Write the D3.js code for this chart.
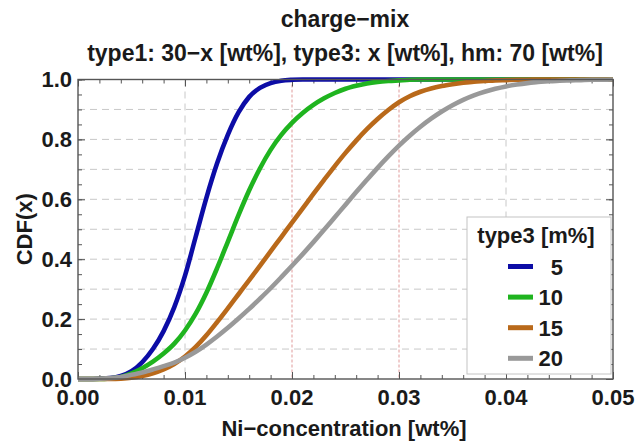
<!DOCTYPE html>
<html>
<head>
<meta charset="utf-8">
<script src="https://cdn.jsdelivr.net/npm/d3@7"></script>
<style>
  html, body { margin: 0; padding: 0; background: #fff; }
  svg { display: block; }
  text { font-family: "Liberation Sans", Arial, sans-serif; font-weight: bold; fill: #1a1a1a; }
</style>
</head>
<body>
<svg id="chart" width="635" height="441"></svg>
<script>
// ---------------- data ----------------
const titleText = "charge\u2212mix";
const subtitleText = "type1: 30\u2212x [wt%], type3: x [wt%], hm: 70 [wt%]";
const xTitle = "Ni\u2212concentration [wt%]";
const yTitle = "CDF(x)";
const legendTitle = "type3 [m%]";

const xGrid = [0.000,0.001,0.002,0.003,0.004,0.005,0.006,0.007,0.008,0.009,
               0.010,0.011,0.012,0.013,0.014,0.015,0.016,0.017,0.018,0.019,
               0.020,0.021,0.022,0.023,0.024,0.025,0.026,0.027,0.028,0.029,
               0.030,0.031,0.032,0.033,0.034,0.035,0.036,0.037,0.038,0.039,
               0.040,0.041,0.042,0.043,0.044,0.045,0.046,0.047,0.048,0.049,0.050];

const seriesNames = ["5", "10", "15", "20"];
const cdf5  = [0,0,0.001,0.003,0.01,0.026,0.056,0.1,0.16,0.24,
               0.345,0.475,0.605,0.72,0.815,0.89,0.942,0.972,0.988,0.996,
               0.999,1,1,1,1,1,1,1,1,1,
               1,1,1,1,1,1,1,1,1,1,
               1,1,1,1,1,1,1,1,1,1,1];
const cdf10 = [0,0,0,0.002,0.007,0.019,0.036,0.058,0.085,0.118,
               0.162,0.218,0.288,0.37,0.458,0.547,0.63,0.703,0.765,0.815,
               0.855,0.888,0.915,0.937,0.955,0.969,0.979,0.987,0.992,0.995,
               0.997,0.999,1,1,1,1,1,1,1,1,
               1,1,1,1,1,1,1,1,1,1,1];
const cdf15 = [0,0,0,0,0.001,0.004,0.01,0.019,0.032,0.05,
               0.075,0.107,0.146,0.19,0.236,0.283,0.33,0.378,0.426,0.474,
               0.522,0.57,0.618,0.665,0.711,0.755,0.796,0.834,0.868,0.898,
               0.924,0.944,0.959,0.97,0.978,0.984,0.989,0.993,0.995,0.997,
               0.998,0.999,0.999,1,1,1,1,1,1,1,1];
const cdf20 = [0,0,0.001,0.003,0.007,0.014,0.022,0.032,0.043,0.055,
               0.071,0.091,0.115,0.142,0.171,0.202,0.234,0.268,0.303,0.34,
               0.378,0.417,0.457,0.498,0.54,0.582,0.624,0.665,0.705,0.743,
               0.779,0.812,0.842,0.869,0.893,0.914,0.932,0.947,0.959,0.969,
               0.977,0.983,0.988,0.992,0.994,0.996,0.997,0.998,0.999,0.999,1];
const seriesValues = [cdf5, cdf10, cdf15, cdf20];
const seriesColors = ["#0c0ca6", "#1fb41f", "#b9691a", "#999999"];

const xTickValues = [0, 0.01, 0.02, 0.03, 0.04, 0.05];
const xTickLabels = ["0.00", "0.01", "0.02", "0.03", "0.04", "0.05"];
const yTickValues = [0, 0.2, 0.4, 0.6, 0.8, 1.0];
const yTickLabels = ["0.0", "0.2", "0.4", "0.6", "0.8", "1.0"];
const redLines = [0.02, 0.03];
const grayVLines = [0.01, 0.04];
const hLines = [0.1,0.2,0.3,0.4,0.5,0.6,0.7,0.8,0.9];

// ---------------- layout ----------------
const svg = d3.select("#chart");
const pL = 78, pR = 613, pT = 79.5, pB = 379;
const x = d3.scaleLinear().domain([0, 0.05]).range([pL, pR]);
const y = d3.scaleLinear().domain([0, 1]).range([pB, pT]);
const FS = 22;

// titles
svg.append("text").attr("x", 345).attr("y", 27).attr("text-anchor", "middle")
  .style("font-size", "23px").text(titleText);
svg.append("text").attr("x", 345).attr("y", 61).attr("text-anchor", "middle")
  .style("font-size", "23px").text(subtitleText);

// grid
const g = svg.append("g");
g.selectAll(".hl").data(hLines).join("line")
  .attr("x1", pL).attr("x2", pR).attr("y1", d => y(d)).attr("y2", d => y(d))
  .attr("stroke", "#c8c8c8").attr("stroke-width", 1).attr("stroke-dasharray", "7,5");
g.selectAll(".vl").data(grayVLines).join("line")
  .attr("x1", d => x(d)).attr("x2", d => x(d)).attr("y1", pT).attr("y2", pB)
  .attr("stroke", "#c8c8c8").attr("stroke-width", 1).attr("stroke-dasharray", "7,5");
g.selectAll(".rl").data(redLines).join("line")
  .attr("x1", d => x(d)).attr("x2", d => x(d)).attr("y1", pT).attr("y2", pB)
  .attr("stroke", "#e09a9a").attr("stroke-width", 1).attr("stroke-dasharray", "3,2");

// axes with inward ticks on all sides
function tickSet(axisGen, transform) {
  svg.append("g").attr("transform", transform).call(axisGen)
    .call(s => s.select(".domain").remove())
    .call(s => s.selectAll("line").attr("stroke", "#555").attr("stroke-width", 1));
}
const xMinor = d3.range(0, 51, 2).map(i => i / 1000);
const yMinor = d3.range(0, 21).map(i => i / 20);
tickSet(d3.axisBottom(x).tickValues(xMinor).tickSize(-4).tickFormat(""), `translate(0,${pB})`);
tickSet(d3.axisBottom(x).tickValues(xTickValues).tickSize(-7).tickFormat(""), `translate(0,${pB})`);
tickSet(d3.axisTop(x).tickValues(xMinor).tickSize(-4).tickFormat(""), `translate(0,${pT})`);
tickSet(d3.axisTop(x).tickValues(xTickValues).tickSize(-7).tickFormat(""), `translate(0,${pT})`);
tickSet(d3.axisLeft(y).tickValues(yMinor).tickSize(-4).tickFormat(""), `translate(${pL},0)`);
tickSet(d3.axisLeft(y).tickValues(yTickValues).tickSize(-7).tickFormat(""), `translate(${pL},0)`);
tickSet(d3.axisRight(y).tickValues(yMinor).tickSize(-4).tickFormat(""), `translate(${pR},0)`);
tickSet(d3.axisRight(y).tickValues(yTickValues).tickSize(-7).tickFormat(""), `translate(${pR},0)`);

// tick labels
svg.selectAll(".xl").data(xTickValues).join("text")
  .attr("x", d => x(d)).attr("y", 405).attr("text-anchor", "middle")
  .style("font-size", FS + "px").text((d, i) => xTickLabels[i]);
svg.selectAll(".yl").data(yTickValues).join("text")
  .attr("x", 72).attr("y", d => y(d) + 7.5).attr("text-anchor", "end")
  .style("font-size", FS + "px").text((d, i) => yTickLabels[i]);

// axis titles
svg.append("text").attr("x", 344).attr("y", 436).attr("text-anchor", "middle")
  .style("font-size", FS + "px").text(xTitle);
svg.append("text").attr("transform", `translate(32,${(pT + pB) / 2}) rotate(-90)`)
  .attr("text-anchor", "middle").style("font-size", FS + "px").text(yTitle);

// curves
const line = d3.line().x(d => x(d[0])).y(d => y(d[1])).curve(d3.curveMonotoneX);
seriesValues.forEach((vals, i) => {
  svg.append("path").datum(xGrid.map((xv, j) => [xv, vals[j]]))
    .attr("d", line).attr("fill", "none").attr("stroke", seriesColors[i])
    .attr("stroke-width", 4.6).attr("stroke-linejoin", "round").attr("stroke-linecap", "butt");
});

// frame
svg.append("rect").attr("x", pL).attr("y", pT).attr("width", pR - pL).attr("height", pB - pT)
  .attr("fill", "none").attr("stroke", "#555").attr("stroke-width", 1.4);

// legend
const lg = svg.append("g");
lg.append("rect").attr("x", 467).attr("y", 217).attr("width", 144).attr("height", 157)
  .attr("fill", "#fff").attr("stroke", "#c4c4c4").attr("stroke-width", 1);
lg.append("text").attr("x", 536).attr("y", 243).attr("text-anchor", "middle")
  .style("font-size", FS + "px").text(legendTitle);
seriesNames.forEach((name, i) => {
  const cy = 266.5 + i * 30.6;
  lg.append("rect").attr("x", 508).attr("y", cy - 2.5).attr("width", 25).attr("height", 5)
    .attr("fill", seriesColors[i]);
  lg.append("text").attr("x", 563).attr("y", cy + 8).attr("text-anchor", "end")
    .style("font-size", FS + "px").text(name);
});
</script>
</body>
</html>
